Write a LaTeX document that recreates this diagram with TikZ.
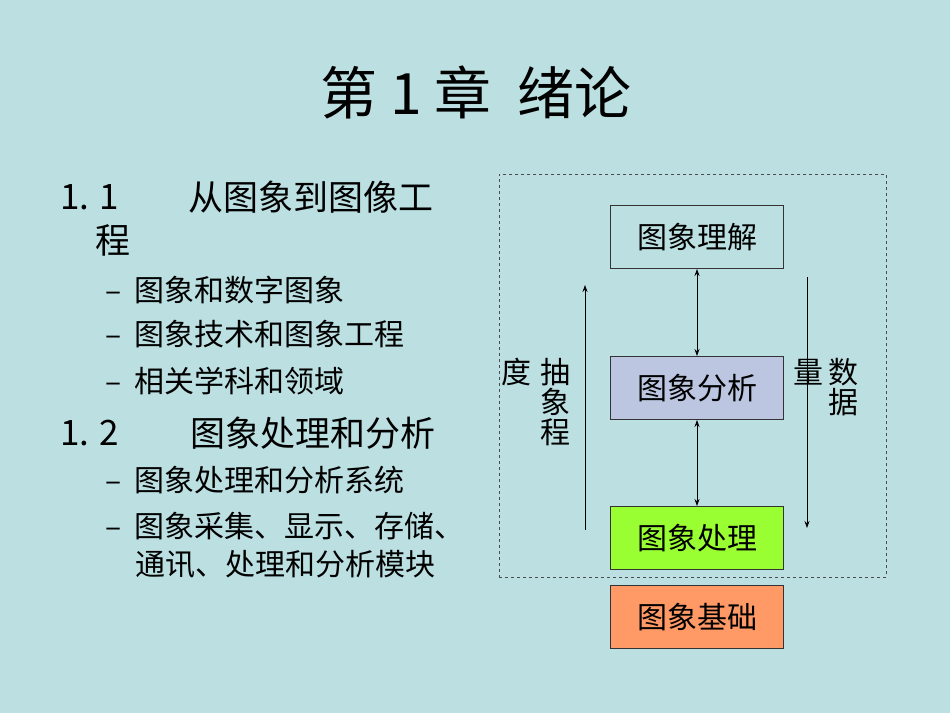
\documentclass[tikz,border=0pt]{standalone}
\usepackage{fontspec}
\setmainfont{Noto Sans CJK SC}
\usetikzlibrary{arrows.meta}
\definecolor{bg}{RGB}{188,224,226}
\definecolor{fa}{RGB}{188,198,224}
\definecolor{fp}{RGB}{153,255,51}
\definecolor{fb}{RGB}{255,153,102}
\begin{document}
\begin{tikzpicture}[x=1pt,y=-1pt,
 box/.style={draw=black!80,line width=1pt,minimum width=173pt,minimum height=63pt,font=\fontsize{30}{30}\selectfont,anchor=north west,inner sep=0pt},
 lbl/.style={font=\fontsize{30}{30}\selectfont,inner sep=0pt},
 txt/.style={font=\fontsize{30}{30}\selectfont,anchor=west,inner sep=0pt},
 head/.style={font=\fontsize{35}{35}\selectfont,anchor=west,inner sep=0pt},
 arr/.style={-{Stealth[length=7pt,width=5pt]},line width=0.8pt}]
\fill[bg] (0,0) rectangle (950,713);
\useasboundingbox (0,0) rectangle (950,713);
\node[font=\fontsize{57}{57}\selectfont] (title) at (476,92) {第 1 章\ \ 绪论};
\node[head] (a1) at (60,197) {1. 1};
\node[head] (a1t) at (188,197) {从图象到图像工};
\node[head] (a1c) at (95,240) {程};
\node[txt] (b1) at (105,290) {–\ \ 图象和数字图象};
\node[txt] (b2) at (105,334) {–\ \ 图象技术和图象工程};
\node[txt] (b3) at (105,381) {–\ \ 相关学科和领域};
\node[head] (a2) at (60,433) {1. 2};
\node[head] (a2t) at (190,433) {图象处理和分析};
\node[txt] (c1) at (105,480) {–\ \ 图象处理和分析系统};
\node[txt] (c2) at (105,526) {–\ \ 图象采集、显示、存储、};
\node[txt] (c3) at (135,564) {通讯、处理和分析模块};
\node[draw=black!70,dashed,line width=0.8pt,minimum width=387pt,minimum height=403pt,anchor=north west,inner sep=0pt] (frame) at (499,174) {};
\node[box] (u) at (610,205) {图象理解};
\node[box,fill=fa] (an) at (610,356) {图象分析};
\node[box,fill=fp] (p) at (610,506) {图象处理};
\node[box,fill=fb] (base) at (610,585) {图象基础};
\draw[arr,{Stealth[length=7pt,width=5pt]}-{Stealth[length=7pt,width=5pt]}] (u) -- (an);
\draw[arr,{Stealth[length=7pt,width=5pt]}-{Stealth[length=7pt,width=5pt]}] (an) -- (p);
\coordinate (l1) at (585,530); \coordinate (l2) at (585,285);
\coordinate (r1) at (807,277); \coordinate (r2) at (807,528);
\draw[arr] (l1) -- (l2);
\draw[arr] (r1) -- (r2);
\node[lbl] (d1) at (516,372) {度};
\node[lbl] (d2) at (555,372) {抽};
\node[lbl] (d3) at (555,402) {象};
\node[lbl] (d4) at (555,432) {程};
\node[lbl] (e1) at (808,372) {量};
\node[lbl] (e2) at (843,372) {数};
\node[lbl] (e3) at (843,402) {据};
\end{tikzpicture}
\end{document}
